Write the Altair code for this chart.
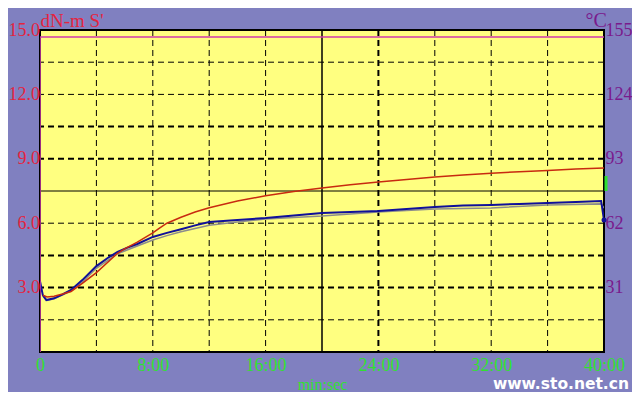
import altair as alt
import pandas as pd

# ---- data ----
red_t = [0.2, 0.5, 1.0, 1.6, 2.2, 3.0, 4.0, 5.0, 5.5, 6.0, 6.9, 8.0, 8.5, 9.0, 10.0, 11.0, 12.0, 14.0,
         16.0, 18.0, 20.0, 22.0, 24.0, 26.0, 28.0, 30.0, 32.0, 34.0, 36.0, 38.0, 40.0]
red_v = [2.65, 2.56, 2.60, 2.70, 2.82, 3.20, 3.70, 4.30, 4.60, 4.80, 5.12, 5.55, 5.78, 6.00, 6.28, 6.52,
         6.72, 7.03, 7.28, 7.48, 7.64, 7.79, 7.92, 8.04, 8.15, 8.24, 8.33, 8.40, 8.46, 8.52, 8.57]

blue_t = [0.0, 0.2, 0.45, 1.0, 1.6, 2.2, 3.0, 4.0, 4.8, 5.5, 6.2, 6.9, 8.0, 9.0, 10.0, 11.0, 12.0, 14.0,
          16.0, 18.0, 20.0, 22.0, 24.0, 26.0, 28.0, 30.0, 32.0, 34.0, 36.0, 38.0, 39.8, 40.0]
blue_v = [3.30, 2.65, 2.42, 2.50, 2.68, 2.89, 3.35, 4.00, 4.38, 4.66, 4.86, 5.03, 5.36, 5.55, 5.72, 5.90,
          6.06, 6.15, 6.24, 6.36, 6.47, 6.52, 6.57, 6.66, 6.75, 6.82, 6.85, 6.90, 6.94, 6.99, 7.03, 6.15]

gray_t = [0.2, 0.5, 1.0, 2.2, 3.0, 4.0, 5.5, 6.9, 8.0, 9.0, 10.0, 12.0, 14.0, 16.0, 18.0, 20.0, 24.0,
          28.0, 32.0, 36.0, 39.8, 40.0]
gray_v = [2.60, 2.40, 2.48, 2.84, 3.25, 3.90, 4.58, 4.94, 5.22, 5.42, 5.60, 5.90, 6.06, 6.20, 6.27, 6.33,
          6.52, 6.66, 6.71, 6.85, 6.90, 6.70]

temp_t = [0.0, 0.0, 40.0]
temp_v = [0.0, 151.6, 151.6]

end_dot_t = [40.0]
end_dot_v = [6.15]

marker_t = [40.0]
marker_lo = [7.5]
marker_hi = [8.2]

x_ticks = [0, 8, 16, 24, 32, 40]
left_ticks = [3, 6, 9, 12, 15]
right_ticks = [31, 62, 93, 124, 155]

grid_v_thin = [4, 8, 12, 16, 28, 32, 36]
grid_v_thick = [24]
grid_v_solid = [20]
grid_h_thin = [1.5, 6.0, 12.0, 13.5]
grid_h_thick = [3.0, 4.5, 9.0, 10.5]
grid_h_solid = [7.5]

left_title = "dN-m  S'"
right_title = "°C"
x_title = "min:sec"
watermark = "www.sto.net.cn"

# ---- styles ----
BG = "#8080c0"
PLOT = "#ffff80"
RED_TXT = "#e4243f"
PURPLE_TXT = "#7a1a8c"
GREEN_TXT = "#30e030"
SERIF = "Liberation Serif"

X = alt.Scale(domain=[0, 40], nice=False, zero=False)
YL = alt.Scale(domain=[0, 15], nice=False)
YR = alt.Scale(domain=[0, 155], nice=False)


def df_xy(t, v):
    return pd.DataFrame({"t": t, "v": v, "i": list(range(len(t)))})


def vrules(vals, dash, width):
    return alt.Chart(pd.DataFrame({"t": vals})).mark_rule(
        color="black", strokeDash=dash, strokeWidth=width
    ).encode(x=alt.X("t:Q", scale=X, axis=None))


def hrules(vals, dash, width):
    return alt.Chart(pd.DataFrame({"v": vals})).mark_rule(
        color="black", strokeDash=dash, strokeWidth=width
    ).encode(y=alt.Y("v:Q", scale=YL, axis=None))


x_axis = alt.Axis(
    values=x_ticks,
    labelExpr="datum.value == 0 ? '0' : datum.value + ':00'",
    labelColor=GREEN_TXT, labelFont=SERIF, labelFontSize=18, labelPadding=4,
    labelFlush=False, labelOverlap=False,
    title=x_title, titleColor=GREEN_TXT, titleFont=SERIF, titleFontSize=16,
    titleFontWeight="normal", titleY=37, titleBaseline="alphabetic",
    domain=False, ticks=False, grid=False,
)

left_axis = alt.Axis(
    values=left_ticks, format=".1f",
    labelColor=RED_TXT, labelFont=SERIF, labelFontSize=18, labelPadding=0.5,
    labelOverlap=False,
    title=left_title, titleAngle=0, titleX=0, titleY=-4, titleAlign="left",
    titleBaseline="alphabetic", titleColor=RED_TXT, titleFont=SERIF,
    titleFontSize=19, titleFontWeight="normal",
    domain=False, ticks=False, grid=False,
)

right_axis = alt.Axis(
    orient="right", values=right_ticks,
    labelColor=PURPLE_TXT, labelFont=SERIF, labelFontSize=18, labelPadding=1,
    labelOverlap=False,
    title=right_title, titleAngle=0, titleX=-19, titleY=-4, titleAlign="left",
    titleBaseline="alphabetic", titleColor=PURPLE_TXT, titleFont=SERIF,
    titleFontSize=20, titleFontWeight="normal",
    domain=False, ticks=False, grid=False,
)

# invisible first layer that carries the x and left y axes
axis_layer = alt.Chart(df_xy(red_t, red_v)).mark_line(opacity=0).encode(
    x=alt.X("t:Q", scale=X, axis=x_axis), y=alt.Y("v:Q", scale=YL, axis=left_axis), order="i:Q")

grid = [
    vrules(grid_v_thin, [6, 4], 1),
    vrules(grid_v_thick, [6, 4], 2),
    vrules(grid_v_solid, [1, 0], 1.5),
    hrules(grid_h_thin, [6, 4], 1),
    hrules(grid_h_thick, [6, 4], 2),
    hrules(grid_h_solid, [1, 0], 1),
]

gray_line = alt.Chart(df_xy(gray_t, gray_v)).mark_line(
    color="#8c8c8c", strokeWidth=1.5, clip=True
).encode(x=alt.X("t:Q", scale=X, axis=None), y=alt.Y("v:Q", scale=YL, axis=None), order="i:Q")

blue_line = alt.Chart(df_xy(blue_t, blue_v)).mark_line(
    color="#10109a", strokeWidth=2, clip=True
).encode(x=alt.X("t:Q", scale=X, axis=None), y=alt.Y("v:Q", scale=YL, axis=None), order="i:Q")

red_line = alt.Chart(df_xy(red_t, red_v)).mark_line(
    color="#c82a10", strokeWidth=1.5, clip=True
).encode(x=alt.X("t:Q", scale=X, axis=None), y=alt.Y("v:Q", scale=YL, axis=None), order="i:Q")

end_dot = alt.Chart(df_xy(end_dot_t, end_dot_v)).mark_point(
    filled=True, color="#10109a", size=25, opacity=1
).encode(x=alt.X("t:Q", scale=X, axis=None), y=alt.Y("v:Q", scale=YL, axis=None))

marker = alt.Chart(pd.DataFrame({"t": marker_t, "lo": marker_lo, "hi": marker_hi})).mark_rule(
    color="#30e030", strokeWidth=3, xOffset=2
).encode(x=alt.X("t:Q", scale=X, axis=None), y=alt.Y("lo:Q", scale=YL, axis=None), y2="hi:Q")

wm = alt.Chart(pd.DataFrame({"s": [watermark]})).mark_text(
    font="DejaVu Sans", fontSize=15.5, fontWeight="bold", color="white", align="right",
    baseline="alphabetic"
).encode(text="s:N", x=alt.value(589), y=alt.value(358.5))

temp_line = alt.Chart(df_xy(temp_t, temp_v)).mark_line(
    color="#d03caa", strokeWidth=1.5, clip=True
).encode(x=alt.X("t:Q", scale=X, axis=None), y=alt.Y("v:Q", scale=YR, axis=right_axis), order="i:Q")

chart = alt.layer(
    axis_layer, *grid, gray_line, blue_line, red_line, end_dot, marker, temp_line, wm
).resolve_scale(x="independent", y="independent").properties(
    width=564, height=322, background=BG,
    padding={"left": 32, "top": 22, "right": 28, "bottom": 40},
    autosize=alt.AutoSizeParams(type="none"),
).configure_view(fill=PLOT, stroke="black", strokeWidth=2)

chart.save("out.html", embed_options={"renderer": "svg", "actions": False})
